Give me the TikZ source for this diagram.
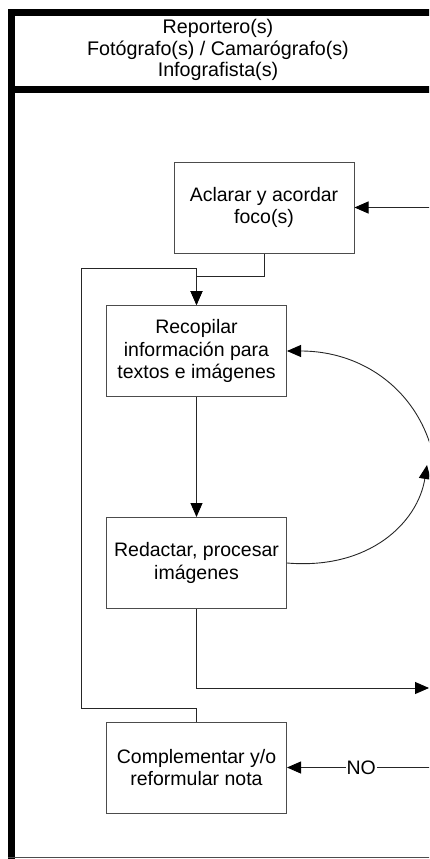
\documentclass[tikz,border=0pt]{standalone}
\usepackage{fontspec}
\setmainfont{Liberation Sans}
\usetikzlibrary{arrows.meta}
\begin{document}
\begin{tikzpicture}[x=1pt,y=-1pt,
  box/.style={draw=black!70, line width=1pt, fill=white, minimum width=180pt, minimum height=91pt, align=center, font=\fontsize{19.5}{22.5}\selectfont, inner sep=0pt},
  conn/.style={draw=black!85, line width=0.9pt},
  arr/.style={conn, -{Triangle[length=14pt,width=12pt,fill=black,color=black]}},
  lanebar/.style={line width=7pt, draw=black},
  lbl/.style={font=\fontsize{19.5}{22.5}\selectfont, fill=white, inner sep=1pt}]
\useasboundingbox (0,0) rectangle (429,859);
\clip (0,0) rectangle (429,859);
% frame
\draw[lanebar, line join=miter] (11.5,870) -- (11.5,13) -- (445,13);
\draw[lanebar] (8,89.5) -- (445,89.5);
\draw[line width=1.2pt, draw=black!70] (8,857.5) -- (445,857.5);
\node[font=\fontsize{19.7}{21.7}\selectfont, align=center] (hdr) at (218,50) {Reportero(s)\\Fotógrafo(s) / Camarógrafo(s)\\Infografista(s)};
% boxes
\node[box] (b1) at (264,207.5) {Aclarar y acordar\\foco(s)};
\node[box] (b2) at (196.5,351) {Recopilar\\información para\\textos e imágenes};
\node[box] (b3) at (196.5,563) {Redactar, procesar\\imágenes};
\node[box] (b4) at (196.5,767.5) {Complementar y/o\\reformular nota};
% coordinates
\coordinate (in1) at (445,207.5);
\coordinate (out1) at (429,688);
\coordinate (in2) at (445,767.5);
\coordinate (lp) at (81,268);
\coordinate (cr1) at (437,480);
\coordinate (cr2) at (427,465);
% connectors
\draw[arr] (in1) -- (b1.east);
\draw[arr] (b1.south) -- ++(0,23) -| (b2.north);
\draw[arr] (b2.south) -- (b3.north);
\draw[arr] (b3.south) |- (out1);
\draw[arr] (in2) -- node[lbl, pos=0.53] {NO} (b4.east);
\draw[arr] (b4.north) -- ++(0,-13) -| (lp) -| (b2.north);
\draw[arr] (cr1) .. controls (431,400) and (370,351) .. (b2.east);
\draw[arr] (b3.east) .. controls (370,570) and (418,522) .. (cr2);
\end{tikzpicture}
\end{document}
